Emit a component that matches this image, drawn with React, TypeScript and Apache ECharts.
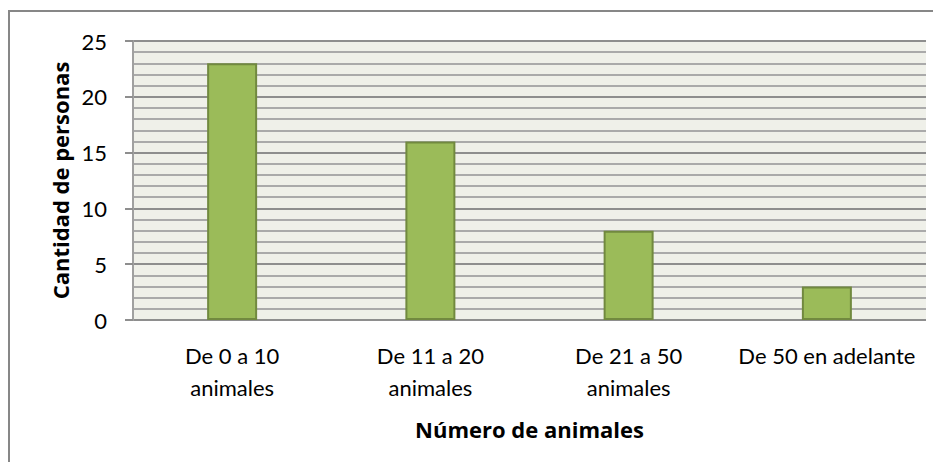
import React, { useEffect, useRef } from "react";
import * as echarts from "echarts";

const categories = ["De 0 a 10\nanimales", "De 11 a 20\nanimales", "De 21 a 50\nanimales", "De 50 en adelante"];
const values = [23, 16, 8, 3];
const yAxisTitle = "Cantidad de personas";
const xAxisTitle = "Número de animales";

const FONT = "Lato, 'Open Sans', sans-serif";
const TITLE_FONT = "'Open Sans', Lato, sans-serif";

export default function App() {
  const ref = useRef<HTMLDivElement>(null);
  useEffect(() => {
    if (!ref.current) return;
    const chart = echarts.init(ref.current, null, { renderer: "svg" });
    chart.setOption({
      animation: false,
      backgroundColor: "transparent",
      grid: {
        left: 133,
        right: 15,
        top: 41,
        bottom: 150,
        show: true,
        backgroundColor: "#eff0e9",
        borderWidth: 0,
      },
      xAxis: {
        type: "category",
        data: categories,
        name: xAxisTitle,
        nameLocation: "middle",
        nameGap: 98,
        nameTextStyle: { fontFamily: TITLE_FONT, fontSize: 22, fontWeight: "bold", color: "#000" },
        axisLine: { show: false },
        axisTick: { show: false },
        axisLabel: { fontFamily: FONT, fontSize: 22, color: "#000", margin: 19, lineHeight: 32, interval: 0 },
        splitLine: { show: false },
      },
      yAxis: {
        type: "value",
        min: 0,
        max: 25,
        interval: 5,
        name: yAxisTitle,
        nameLocation: "middle",
        nameGap: 61,
        nameTextStyle: { fontFamily: TITLE_FONT, fontSize: 22, fontWeight: "bold", color: "#000" },
        axisLine: { show: true, lineStyle: { color: "#a0a0a0", width: 2 } },
        axisTick: { show: true, length: 8, lineStyle: { color: "#8e8e8e", width: 2 } },
        axisLabel: { fontFamily: FONT, fontSize: 22, color: "#000", margin: 26 },
        splitLine: { show: true, lineStyle: { color: "#8e8e8e", width: 2 } },
        minorTick: { show: false, splitNumber: 5 },
        minorSplitLine: { show: true, lineStyle: { color: "#aaaaaa", width: 2 } },
      },
      series: [
        {
          type: "bar",
          data: values,
          barWidth: 50,
          itemStyle: { color: "#9bbb59", borderColor: "#71893f", borderWidth: 2 },
        },
      ],
    });
    return () => chart.dispose();
  }, []);
  return (
    <div style={{ position: "relative", width: 941, height: 470, margin: -8, background: "#fff" }}>
      <div
        style={{
          position: "absolute",
          left: 8,
          top: 10,
          width: 929,
          height: 470,
          border: "2px solid #878787",
          boxSizing: "border-box",
        }}
      />
      <div ref={ref} style={{ position: "absolute", left: 0, top: 0, width: 941, height: 470 }} />
    </div>
  );
}
